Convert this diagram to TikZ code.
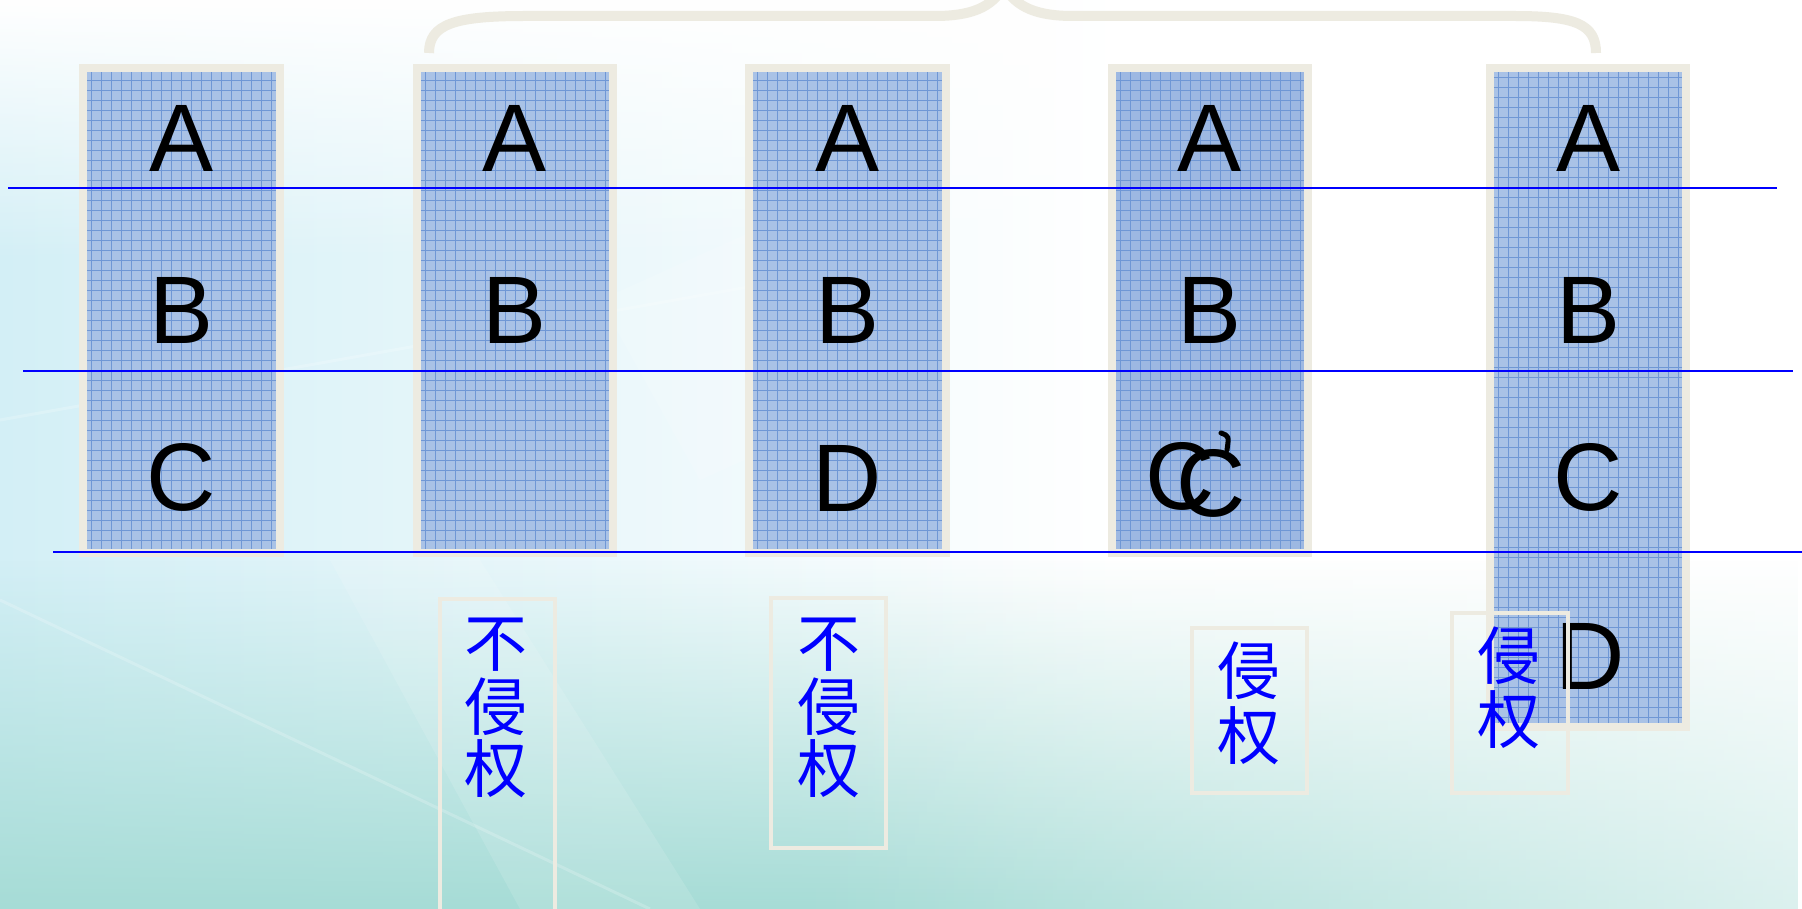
\documentclass[tikz,border=0pt]{standalone}
\usepackage{fontspec}
\setmainfont{Liberation Sans}
\newfontfamily\cjk{Noto Sans CJK SC}
\usetikzlibrary{fadings}
\definecolor{beige}{HTML}{EDEBE1}
\definecolor{colblue}{HTML}{A9C2E6}
\definecolor{colbluedk}{HTML}{9DB8E2}
\definecolor{gridblue}{HTML}{6F97D5}
\definecolor{linkblue}{HTML}{0000FF}
\definecolor{bgcyan}{HTML}{D3EFF6}
\definecolor{bgteal}{HTML}{A6DCD6}
\pgfdeclarehorizontalshading{bgh}{100bp}{color(0bp)=(bgcyan); color(25bp)=(bgcyan); color(42bp)=(bgcyan!45!white); color(56bp)=(white); color(100bp)=(white)}
\begin{document}
\begin{tikzpicture}[x=1pt,y=-1pt,
  colbox/.style={draw=beige, line width=8pt, fill=colblue, inner sep=0pt,
    path picture={\draw[gridblue, line width=0.8pt, step=10pt] (path picture bounding box.south west) grid (path picture bounding box.north east);}},
  letter/.style={font=\fontsize{96}{96}\selectfont, anchor=base, inner sep=0pt, text=black},
  divline/.style={draw=linkblue, line width=2pt},
  tagbox/.style={draw=beige, line width=4pt, inner sep=0pt},
  tagchar/.style={font=\cjk\fontsize{63}{63}\selectfont, text=linkblue, inner sep=0pt},
  bracestyle/.style={draw=beige, line width=10pt},
]
\useasboundingbox (0,0) rectangle (1802,909);
% background
\fill[white] (0,0) rectangle (1802,909);
\shade[shading=bgh] (0,0) rectangle (1802,909);
\fill[white, path fading=south] (0,0) rectangle (1802,260);
\fill[bgteal, path fading=north] (0,560) rectangle (1802,909);
\fill[white, path fading=west, fill opacity=0.6] (800,560) rectangle (1802,909);
\fill[white, opacity=0.12] (330,560) -- (520,909) -- (700,909) -- (480,560) -- cycle;
\fill[white, opacity=0.15] (600,300) -- (1000,120) -- (1100,300) -- (700,480) -- cycle;
\draw[white, opacity=0.2, line width=3pt] (0,600) -- (650,909);
\draw[white, opacity=0.2, line width=3pt] (0,420) -- (900,260);

% brace
\coordinate (brL) at (429,53);
\coordinate (brR) at (1596,53);
\coordinate (brT) at (1004,-14);
\draw[bracestyle] (brL) .. controls (429,24) and (455,16) .. (525,16) -- (935,16)
   .. controls (970,16) and (992,8) .. (brT);
\draw[bracestyle] (brT) .. controls (1016,8) and (1038,16) .. (1073,16) -- (1515,16)
   .. controls (1575,16) and (1596,24) .. (brR);

% columns
\node[colbox, minimum width=197pt, minimum height=485pt] (c1) at (181.5,310.5) {};
\node[colbox, minimum width=196pt, minimum height=485pt] (c2) at (515,310.5) {};
\node[colbox, minimum width=197pt, minimum height=485pt] (c3) at (847.5,310.5) {};
\node[colbox, fill=colbluedk, minimum width=196pt, minimum height=485pt] (c4) at (1210,310.5) {};
\node[colbox, minimum width=196pt, minimum height=659pt] (c5) at (1588,397.5) {};

% letters
\node[letter] (c1a) at (181.5,172) {A};
\node[letter] (c1b) at (181.5,344) {B};
\node[letter] (c1c) at (181.5,510) {C};
\node[letter] (c2a) at (515,172) {A};
\node[letter] (c2b) at (515,344) {B};
\node[letter] (c3a) at (847.5,172) {A};
\node[letter] (c3b) at (847.5,344) {B};
\node[letter] (c3d) at (847.5,511) {D};
\node[letter] (c4a) at (1210,172) {A};
\node[letter] (c4b) at (1210,344) {B};
\node[letter] (c4c1) at (1180,509) {C};
\node[letter] (c4c2) at (1211,516) {C};
\draw[black, line width=5pt, line cap=round] (1221,433) .. controls (1229,436) .. (1227,450);
\node[letter] (c5a) at (1588,172) {A};
\node[letter] (c5b) at (1588,344) {B};
\node[letter] (c5c) at (1588,510) {C};
\node[letter] (c5d) at (1590,689) {D};

% divider lines
\coordinate (l1s) at (8,188.5);   \coordinate (l1e) at (1777,188.5);
\coordinate (l2s) at (23,370.5);  \coordinate (l2e) at (1793,370.5);
\coordinate (l3s) at (53,551.5);  \coordinate (l3e) at (1802,551.5);
\draw[divline] (l1s) -- (l1e);
\draw[divline] (l2s) -- (l2e);
\draw[divline] (l3s) -- (l3e);

% tag boxes
\node[tagbox, minimum width=115pt, minimum height=316pt] (t1) at (497.5,757) {};
\node[tagbox, minimum width=115pt, minimum height=250pt] (t2) at (828.5,723) {};
\node[tagbox, minimum width=115pt, minimum height=165pt] (t3) at (1249.5,710.5) {};
\node[tagbox, minimum width=116pt, minimum height=180pt] (t4) at (1510,703) {};

\node[tagchar] (t1a) at (496,645) {不};
\node[tagchar] (t1b) at (496,707) {侵};
\node[tagchar] (t1c) at (496,769) {权};
\node[tagchar] (t2a) at (829,645) {不};
\node[tagchar] (t2b) at (829,707) {侵};
\node[tagchar] (t2c) at (829,769) {权};
\node[tagchar] (t3a) at (1249,671) {侵};
\node[tagchar] (t3b) at (1249,736) {权};
\node[tagchar] (t4a) at (1509,656) {侵};
\node[tagchar] (t4b) at (1509,720) {权};
\end{tikzpicture}
\end{document}
